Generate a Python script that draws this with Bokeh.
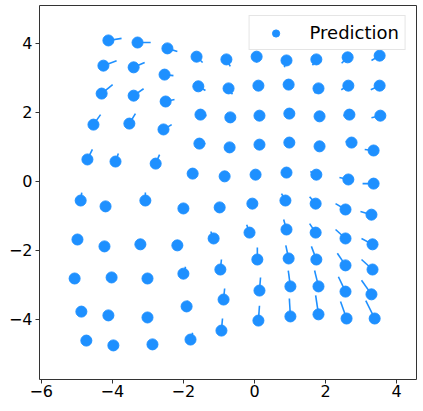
import numpy as np
from bokeh.plotting import figure
from bokeh.models import Range1d, FixedTicker, Legend
from bokeh.embed import file_html
from bokeh.resources import INLINE

# ---- data (10 x 10 grid, rows top to bottom) ----
pred_x = [
    -4.11, -3.29, -2.45, -1.63, -0.79, 0.06, 0.90, 1.74, 2.62, 3.52,
    -4.25, -3.40, -2.53, -1.58, -0.73, 0.11, 0.96, 1.80, 2.64, 3.52,
    -4.30, -3.40, -2.50, -1.52, -0.68, 0.14, 0.98, 1.83, 2.67, 3.54,
    -4.53, -3.52, -2.56, -1.55, -0.70, 0.14, 0.98, 1.83, 2.73, 3.35,
    -4.70, -3.91, -2.78, -1.74, -0.84, 0.03, 0.90, 1.74, 2.64, 3.35,
    -4.89, -4.19, -3.07, -2.00, -0.98, -0.06, 0.87, 1.72, 2.56, 3.29,
    -4.98, -4.22, -3.21, -2.17, -1.15, -0.14, 0.90, 1.72, 2.56, 3.32,
    -5.06, -4.02, -3.01, -2.00, -0.96, 0.08, 0.96, 1.74, 2.56, 3.32,
    -4.87, -4.11, -3.01, -1.91, -0.87, 0.14, 1.01, 1.80, 2.56, 3.29,
    -4.73, -3.97, -2.87, -1.80, -0.93, 0.11, 1.01, 1.80, 2.59, 3.38,
]
pred_y = [
    4.08, 4.02, 3.85, 3.61, 3.53, 3.61, 3.50, 3.53, 3.59, 3.64,
    3.35, 3.30, 3.09, 2.75, 2.69, 2.77, 2.80, 2.69, 2.77, 2.77,
    2.54, 2.48, 2.31, 1.93, 1.85, 1.90, 1.96, 1.88, 1.93, 1.90,
    1.64, 1.67, 1.50, 1.09, 0.98, 1.06, 1.12, 1.01, 1.12, 0.89,
    0.63, 0.57, 0.51, 0.22, 0.14, 0.19, 0.25, 0.19, 0.05, -0.07,
    -0.56, -0.73, -0.56, -0.79, -0.76, -0.65, -0.56, -0.65, -0.82, -0.97,
    -1.69, -1.89, -1.83, -1.86, -1.66, -1.49, -1.40, -1.49, -1.66, -1.83,
    -2.82, -2.79, -2.82, -2.68, -2.56, -2.27, -2.24, -2.27, -2.44, -2.56,
    -3.78, -3.89, -3.95, -3.63, -3.43, -3.17, -3.05, -3.05, -3.20, -3.28,
    -4.62, -4.76, -4.73, -4.59, -4.33, -4.04, -3.92, -3.86, -3.98, -3.98,
]
# offset from each prediction to its reference position
err_x = [
    0.37, 0.37, 0.28, 0.17, 0.11, 0.00, -0.06, -0.11, -0.17, -0.23,
    0.37, 0.31, 0.25, 0.20, 0.11, 0.03, -0.03, -0.11, -0.20, -0.25,
    0.31, 0.28, 0.25, 0.17, 0.06, 0.03, -0.03, -0.06, -0.17, -0.25,
    0.20, 0.17, 0.23, 0.17, 0.06, 0.03, -0.03, -0.06, -0.17, -0.25,
    0.14, 0.08, 0.11, 0.06, 0.03, 0.00, -0.03, -0.17, -0.25, -0.31,
    0.03, -0.03, 0.00, 0.00, 0.03, -0.08, -0.11, -0.17, -0.28, -0.31,
    0.00, 0.03, 0.00, 0.00, -0.08, -0.08, -0.08, -0.17, -0.28, -0.31,
    0.00, 0.00, 0.00, 0.06, 0.03, 0.00, -0.08, -0.14, -0.23, -0.31,
    0.00, 0.00, 0.03, 0.03, 0.03, 0.03, -0.06, -0.11, -0.20, -0.28,
    0.06, 0.03, 0.03, 0.06, 0.03, 0.03, -0.03, -0.08, -0.17, -0.25,
]
err_y = [
    0.06, 0.00, -0.09, -0.17, -0.20, -0.17, -0.20, -0.17, -0.17, -0.14,
    0.14, 0.14, -0.03, -0.12, -0.17, -0.09, -0.09, -0.14, -0.12, -0.12,
    0.26, 0.20, 0.06, -0.03, -0.06, -0.06, -0.03, -0.06, -0.03, -0.06,
    0.29, 0.29, 0.14, 0.00, -0.03, -0.03, 0.00, 0.00, 0.03, 0.03,
    0.29, 0.23, 0.26, 0.00, 0.00, 0.03, 0.03, 0.09, 0.06, 0.00,
    0.23, 0.14, 0.23, 0.03, 0.06, 0.14, 0.20, 0.20, 0.17, 0.09,
    0.06, 0.06, 0.06, 0.09, 0.20, 0.23, 0.29, 0.26, 0.26, 0.17,
    0.06, 0.06, 0.09, 0.20, 0.29, 0.35, 0.38, 0.38, 0.35, 0.29,
    0.06, 0.06, 0.09, 0.17, 0.32, 0.38, 0.46, 0.46, 0.43, 0.41,
    0.14, 0.09, 0.14, 0.20, 0.35, 0.43, 0.52, 0.55, 0.49, 0.52,
]
x_ticks = [-6, -4, -2, 0, 2, 4]
x_tick_labels = ["\u22126", "\u22124", "\u22122", "0", "2", "4"]
y_ticks = [-4, -2, 0, 2, 4]
y_tick_labels = ["\u22124", "\u22122", "0", "2", "4"]
series_label = "Prediction"

COLOR = "#1e90ff"
FONT = "DejaVu Sans"

px = np.array(pred_x)
py = np.array(pred_y)
ex = np.array(err_x)
ey = np.array(err_y)

p = figure(
    width=420, height=404,
    x_range=Range1d(-6.048, 4.557), y_range=Range1d(-5.748, 5.093),
    output_backend="svg", toolbar_location=None,
    min_border_left=39, min_border_right=4, min_border_top=5, min_border_bottom=25,
)
p.background_fill_color = "white"
p.border_fill_color = "white"
p.outline_line_color = "#333333"
p.outline_line_width = 1
p.xgrid.visible = False
p.ygrid.visible = False

p.segment(x0=px, y0=py, x1=px + ex, y1=py + ey, line_color=COLOR, line_width=1.6)
r = p.scatter(px, py, size=11, fill_color=COLOR, line_color=COLOR)

for ax, ticks, labels in ((p.xaxis[0], x_ticks, x_tick_labels), (p.yaxis[0], y_ticks, y_tick_labels)):
    ax.ticker = FixedTicker(ticks=ticks)
    ax.major_label_overrides = {t: l for t, l in zip(ticks, labels)}
    ax.axis_line_color = None
    ax.major_tick_line_color = "#333333"
    ax.major_tick_out = 4
    ax.major_tick_in = 0
    ax.minor_tick_line_color = None
    ax.major_label_text_font = FONT
    ax.major_label_text_font_size = "16px"
    ax.major_label_text_color = "black"
p.xaxis[0].major_label_standoff = 1
p.yaxis[0].major_label_standoff = 3

legend = Legend(items=[(series_label, [r])], location="top_right")
legend.margin = 10
legend.padding = 6
legend.glyph_width = 40
legend.glyph_height = 18
legend.label_height = 18
legend.label_standoff = 14
legend.label_text_font = FONT
legend.label_text_font_size = "18px"
legend.label_text_color = "black"
legend.border_line_color = "#cccccc"
legend.border_line_width = 1
legend.background_fill_alpha = 0.8
p.add_layout(legend)

open("out.html", "w").write(file_html(p, INLINE))
